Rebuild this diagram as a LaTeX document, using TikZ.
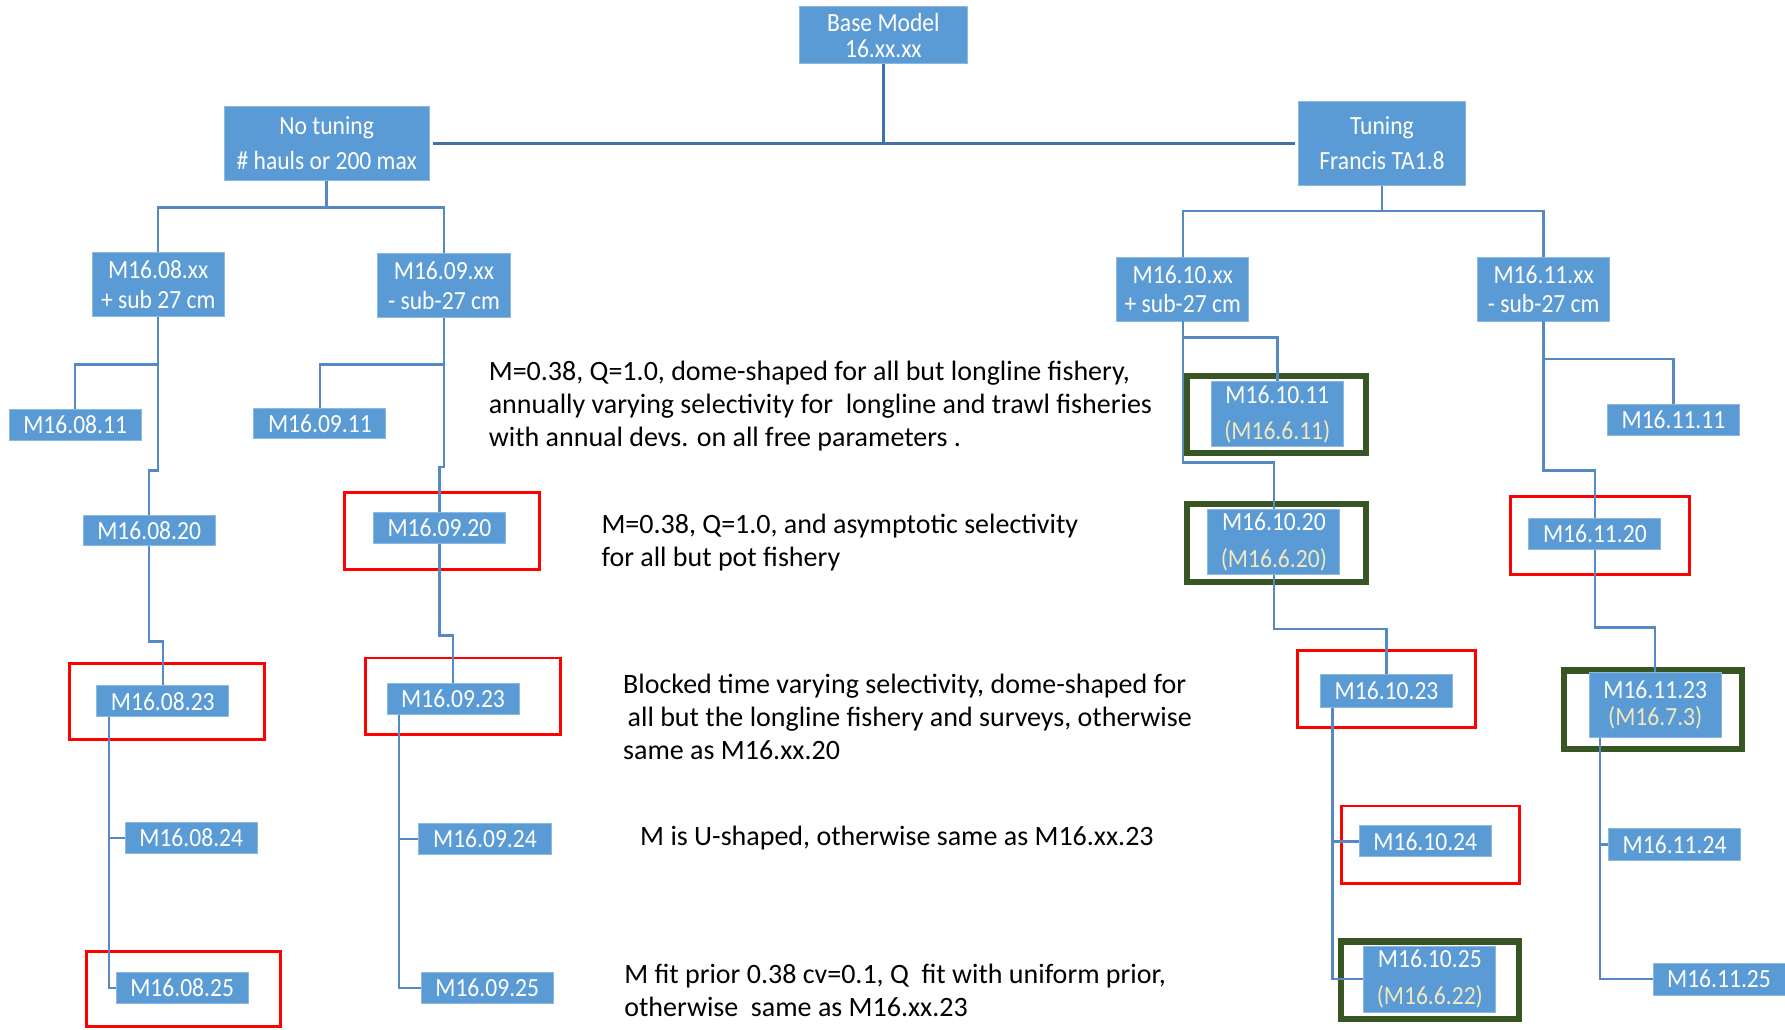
\documentclass[tikz,border=0pt]{standalone}
\usepackage{fontspec}
\setmainfont{Carlito}
\newfontfamily\boxfam{Carlito}[FakeStretch=0.9]
\usepackage{tikz}

\definecolor{boxblue}{RGB}{91,155,213}
\definecolor{linkblue}{RGB}{84,137,196}
\definecolor{trunkblue}{RGB}{65,113,166}
\definecolor{darkgreen}{RGB}{56,86,35}
\definecolor{oldname}{RGB}{242,232,190}

\begin{document}
\begin{tikzpicture}[x=0.5pt, y=-0.5pt,
  model/.style={fill=boxblue, draw=boxblue!70!white, line width=0.4pt, text=white,
    inner sep=0pt, minimum width=58pt, minimum height=13.5pt,
    font=\boxfam\fontsize{11.5}{13.5}\selectfont},
  pair/.style={model, align=center, minimum height=28pt,
    font=\boxfam\fontsize{11.5}{#1}\selectfont},
  pair/.default=13.5pt,
  link/.style={draw=linkblue, line width=1.1pt},
  trunk/.style={draw=trunkblue, line width=1.6pt},
  redframe/.style={draw=red, line width=1.3pt},
  greenframe/.style={draw=darkgreen, line width=2.7pt},
  note/.style={anchor=west, align=left, inner sep=0pt,
    font=\fontsize{12.3}{14.5}\selectfont}]
  \useasboundingbox (0,0) rectangle (1568,904);

  \draw[redframe] (61,583) rectangle (232,650);
  \draw[redframe] (76,836) rectangle (246,902);
  \draw[redframe] (303,433) rectangle (474,500);
  \draw[redframe] (321,578) rectangle (492,645);
  \draw[redframe] (1140,571) rectangle (1296,639);
  \draw[redframe] (1178,708) rectangle (1335,776);
  \draw[redframe] (1327,436) rectangle (1484,505);
  \draw[greenframe] (1043,330) rectangle (1200,398);
  \draw[greenframe] (1043,443) rectangle (1200,511);
  \draw[greenframe] (1178,827) rectangle (1334,895);
  \draw[greenframe] (1374,589) rectangle (1530,658);

  \node[pair=11.5pt, minimum width=74pt, minimum height=25pt] (base) at (776,31) {Base Model\\16.xx.xx};
  \node[pair=15.5pt, minimum width=90pt, minimum height=32.5pt] (notune) at (287,126) {No tuning\\\# hauls or 200 max};
  \node[pair=15.5pt, minimum width=73pt, minimum height=37pt] (tune) at (1214,126) {Tuning\\Francis TA1.8};

  \node[pair] (m08xx) at (139,250) {M16.08.xx\\+ sub 27 cm};
  \node[pair] (m09xx) at (390,251) {M16.09.xx\\- sub-27 cm};
  \node[pair=13pt] (m10xx) at (1039,254) {M16.10.xx\\+ sub-27 cm};
  \node[pair=13pt] (m11xx) at (1356,254) {M16.11.xx\\- sub-27 cm};

  \node[model] (m0811) at (66,373) {M16.08.11};
  \node[model] (m0820) at (131,466) {M16.08.20};
  \node[model] (m0823) at (143,616) {M16.08.23};
  \node[model] (m0824) at (168,736) {M16.08.24};
  \node[model] (m0825) at (160,868) {M16.08.25};

  \node[model] (m0911) at (281,372) {M16.09.11};
  \node[model] (m0920) at (386,464) {M16.09.20};
  \node[model] (m0923) at (398,614) {M16.09.23};
  \node[model] (m0924) at (426,737) {M16.09.24};
  \node[model] (m0925) at (428,868) {M16.09.25};

  \node[pair=15.5pt, minimum height=28.5pt] (m1011) at (1122,364) {M16.10.11\\\textcolor{oldname}{(M16.6.11)}};
  \node[pair=16.5pt, minimum height=28.5pt] (m1020) at (1119,476) {M16.10.20\\\textcolor{oldname}{(M16.6.20)}};
  \node[model, minimum height=14.5pt] (m1023) at (1218,607) {M16.10.23};
  \node[model] (m1024) at (1252,739) {M16.10.24};
  \node[pair=16pt, minimum height=29pt] (m1025) at (1256,860) {M16.10.25\\\textcolor{oldname}{(M16.6.22)}};

  \node[model] (m1111) at (1470,369) {M16.11.11};
  \node[model] (m1120) at (1401,469) {M16.11.20};
  \node[pair=12pt, minimum height=28.5pt] (m1123) at (1454,619) {M16.11.23\\\textcolor{oldname}{(M16.7.3)}};
  \node[model, minimum height=14pt] (m1124) at (1471,742) {M16.11.24};
  \node[model, minimum height=14pt] (m1125) at (1510,860) {M16.11.25};

  \draw[trunk] (base.south) -- (base.south |- notune.east);
  \draw[trunk, shorten <=1.5pt, shorten >=1.5pt] (notune.east) -- (tune.west);
  \draw[link] (notune.south) -- ++(0,23.5) -| (m08xx.north);
  \draw[link] (notune.south) ++(0,23.5) -| (m09xx.north);
  \draw[link] (tune.south) -- ++(0,22) -| (m10xx.north);
  \draw[link] (tune.south) ++(0,22) -| (m11xx.north);

  \draw[link] (m08xx.south) ++(0,42) -| (m0811.north);
  \draw[link] (m08xx.south) -- ++(0,135) -| (m0820.north);
  \draw[link] (m0820.south) -- ++(0,83.5) -| (m0823.north);
  \draw[link] ([xshift=5.5pt]m0823.south west) |- (m0824.west);
  \draw[link] ([xshift=5.5pt]m0823.south west) |- (m0825.west);

  \draw[link] (m09xx.south) ++(0,41) -| (m0911.north);
  \draw[link] (m09xx.south) -- ++(0,131) -| (m0920.north);
  \draw[link] (m0920.south) -- ++(0,80.5) -| (m0923.north);
  \draw[link] ([xshift=5.5pt]m0923.south west) |- (m0924.west);
  \draw[link] ([xshift=5.5pt]m0923.south west) |- (m0925.west);

  \draw[link] (m10xx.south) ++(0,14) -| (m1011.north);
  \draw[link] (m10xx.south) -- ++(0,124) -| (m1020.north);
  \draw[link] (m1020.south) -- ++(0,47.5) -| (m1023.north);
  \draw[link] ([xshift=5.5pt]m1023.south west) |- (m1024.west);
  \draw[link] ([xshift=5.5pt]m1023.south west) |- (m1025.west);

  \draw[link] (m11xx.south) ++(0,33) -| (m1111.north);
  \draw[link] (m11xx.south) -- ++(0,131) -| (m1120.north);
  \draw[link] (m1120.south) -- ++(0,68.5) -| (m1123.north);
  \draw[link] ([xshift=5pt]m1123.south west) |- (m1124.west);
  \draw[link] ([xshift=5pt]m1123.south west) |- (m1125.west);

  \node[note] (annual) at (429,357) {M=0.38, Q=1.0, dome-shaped for all but longline fishery,\\annually varying selectivity for~ longline and trawl fisheries\\with annual devs. on all free parameters .};
  \node[note] (asympt) at (528,476.5) {M=0.38, Q=1.0, and asymptotic selectivity\\for all but pot fishery};
  \node[note] (blocked) at (547,629.5) {Blocked time varying selectivity, dome-shaped for\\\hspace{2pt}all but the longline fishery and surveys, otherwise\\same as M16.xx.20};
  \node[note] (ushape) at (562,736) {M is U-shaped, otherwise same as M16.xx.23};
  \node[note] (prior) at (548,870) {M fit prior 0.38 cv=0.1, Q~ fit with uniform prior,\\otherwise~ same as M16.xx.23};
\end{tikzpicture}
\end{document}
